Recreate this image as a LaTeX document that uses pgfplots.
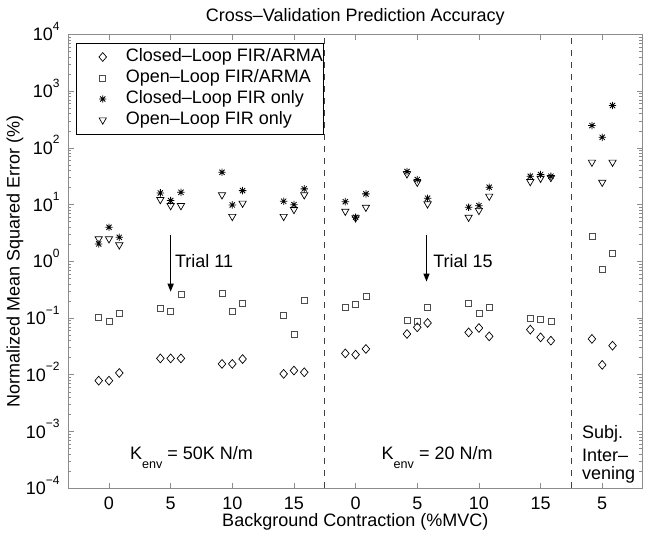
\documentclass[border=0pt]{standalone}
\usepackage{pgfplots}
\pgfplotsset{compat=1.18}
\usepackage{fontspec}
\setmainfont{Liberation Sans}
\usetikzlibrary{arrows.meta}
\pgfdeclareplotmark{mstar}{%
 \pgfpathmoveto{\pgfpoint{0pt}{\pgfplotmarksize}}\pgfpathlineto{\pgfpoint{0pt}{-\pgfplotmarksize}}%
 \pgfpathmoveto{\pgfpoint{\pgfplotmarksize}{0pt}}\pgfpathlineto{\pgfpoint{-\pgfplotmarksize}{0pt}}%
 \pgfpathmoveto{\pgfpoint{0.707\pgfplotmarksize}{0.707\pgfplotmarksize}}\pgfpathlineto{\pgfpoint{-0.707\pgfplotmarksize}{-0.707\pgfplotmarksize}}%
 \pgfpathmoveto{\pgfpoint{0.707\pgfplotmarksize}{-0.707\pgfplotmarksize}}\pgfpathlineto{\pgfpoint{-0.707\pgfplotmarksize}{0.707\pgfplotmarksize}}%
 \pgfusepathqstroke}
\newcommand{\ex}[1]{10\raisebox{10.5pt}{\fontsize{12}{12}\selectfont #1}}
\begin{document}
\fontsize{18}{21.6}\selectfont
\begin{tikzpicture}
\begin{axis}[
  scale only axis, width=574pt, height=453.8pt,
  xmin=0.34, xmax=9.65,
  ymode=log, ymin=1e-4, ymax=1e4,
  xtick={1,2,3,4,5,6,7,8,9},
  xticklabels={0,5,10,15,0,5,10,15,5},
  ytick={1e-4,1e-3,1e-2,1e-1,1,10,100,1000,10000},
  yticklabels={\ex{−4},\ex{−3},\ex{−2},\ex{−1},\ex{0},\ex{1},\ex{2},\ex{3},\ex{4}},
  minor ytick={2e-4,3e-4,4e-4,5e-4,6e-4,7e-4,8e-4,9e-4,2e-3,3e-3,4e-3,5e-3,6e-3,7e-3,8e-3,9e-3,2e-2,3e-2,4e-2,5e-2,6e-2,7e-2,8e-2,9e-2,0.2,0.3,0.4,0.5,0.6,0.7,0.8,0.9,2,3,4,5,6,7,8,9,20,30,40,50,60,70,80,90,200,300,400,500,600,700,800,900,2000,3000,4000,5000,6000,7000,8000,9000},
  tick align=inside,
  major tick length=5.5pt, minor tick length=3pt,
  axis line style={draw=black!45, line width=0.9pt},
  every tick/.style={draw=black!45, line width=0.7pt},
  xticklabel style={anchor=north, inner sep=0pt, yshift=-8.4pt},
  yticklabel style={anchor=base east, inner sep=0pt, xshift=-8.5pt, yshift=-6.45pt},
  title={Cross–Validation Prediction Accuracy},
  title style={at={(axis description cs:0.5,1)}, anchor=base, yshift=7.3pt, inner sep=0pt},
  xlabel={Background Contraction (\%MVC)},
  xlabel style={at={(axis description cs:0.5,0)}, anchor=base, yshift=-38.4pt, inner sep=0pt},
  ylabel={Normalized Mean Squared Error (\%)},
  ylabel style={at={(axis description cs:-0.0929,0.5)}, anchor=center, inner sep=0pt},
  legend cell align=left,
  legend image code/.code={\path[draw=none,fill=none] (-15pt,-6pt) rectangle (34pt,6pt); \draw[#1] plot coordinates {(11.7pt,0pt)};},
  legend style={at={(axis description cs:0.0135,0.9813)}, anchor=north west,
    draw=black, line width=0.7pt, fill=white, inner xsep=0pt, inner ysep=3.5pt, outer sep=0pt,
    column sep=0pt, row sep=0pt,
    nodes={draw=none, fill=none, outer sep=0pt, inner xsep=0.8pt, inner ysep=2pt, text height=13pt, text depth=4pt}},
]
% dashed separators
\addplot[black!75, line width=0.6pt, dash pattern=on 6pt off 6pt, forget plot] coordinates {(4.5,1e-4) (4.5,1e4)};
\addplot[black!75, line width=0.6pt, dash pattern=on 6pt off 6pt, forget plot] coordinates {(8.5,1e-4) (8.5,1e4)};

\addplot[only marks, mark=diamond, mark size=4.4pt, mark options={xscale=1.15, draw=black, line width=0.7pt, fill=none}] table {
x y
0.833 0.0079
1.000 0.0079
1.167 0.0108
1.833 0.0195
2.000 0.0195
2.167 0.0195
2.833 0.0156
3.000 0.0156
3.167 0.0190
3.833 0.0104
4.000 0.0119
4.167 0.0111
4.833 0.0239
5.000 0.0227
5.167 0.0286
5.833 0.0526
6.000 0.0689
6.167 0.0822
6.833 0.0560
7.000 0.0670
7.167 0.0477
7.833 0.0627
8.000 0.0458
8.167 0.0400
8.833 0.0430
9.000 0.0150
9.167 0.0327
};
\addlegendentry{Closed–Loop FIR/ARMA}

\addplot[only marks, mark=square, mark size=3pt, mark options={draw=black!70, line width=0.7pt, fill=none}] table {
x y
0.833 0.103
1.000 0.0867
1.167 0.119
1.833 0.151
2.000 0.130
2.167 0.259
2.833 0.278
3.000 0.132
3.167 0.182
3.833 0.114
4.000 0.0526
4.167 0.204
4.833 0.155
5.000 0.178
5.167 0.242
5.833 0.0904
6.000 0.0867
6.167 0.155
6.833 0.182
7.000 0.122
7.167 0.155
7.833 0.099
8.000 0.094
8.167 0.088
8.833 2.77
9.000 0.72
9.167 1.41
};
\addlegendentry{Open–Loop FIR/ARMA}

\addplot[only marks, mark=mstar, mark size=3.7pt, mark options={draw=black, line width=0.8pt}] table {
x y
0.833 2.03
1.000 4.0
1.167 2.66
1.833 16.1
2.000 11.8
2.167 16.5
2.833 37.3
3.000 9.9
3.167 17.7
3.833 11.5
4.000 10.0
4.167 19.0
4.833 11.3
5.000 6.0
5.167 15.5
5.833 38.4
6.000 27.7
6.167 13.0
6.833 9.0
7.000 9.6
7.167 20.3
7.833 31.7
8.000 34.0
8.167 31.7
8.833 248
9.000 154
9.167 560
};
\addlegendentry{Closed–Loop FIR only}

\addplot[only marks, mark=triangle, mark size=4.2pt, mark options={rotate=180, draw=black, line width=0.7pt, fill=none}] table {
x y
0.833 2.5
1.000 2.5
1.167 1.95
1.833 12.3
2.000 9.6
2.167 9.6
2.833 14.9
3.000 6.2
3.167 10.6
3.833 6.2
4.000 8.2
4.167 14.9
4.833 7.65
5.000 5.85
5.167 9.0
5.833 34.9
6.000 24.8
6.167 10.3
6.833 6.0
7.000 7.9
7.167 14.1
7.833 25.5
8.000 29.2
8.167 30.1
8.833 56
9.000 24.8
9.167 56
};
\addlegendentry{Open–Loop FIR only}

% annotations
\draw[line width=1.2pt, -{Triangle[length=8pt,width=6pt]}] (axis cs:2,2.92) -- (axis cs:2,0.292);
\draw[line width=1.2pt, -{Triangle[length=8pt,width=6pt]}] (axis cs:6.15,2.92) -- (axis cs:6.15,0.44);
\node[anchor=base west, inner sep=0pt] at (axis cs:2.07,0.766) {Trial 11};
\node[anchor=base west, inner sep=0pt] at (axis cs:6.256,0.766) {Trial 15};
\node[anchor=base west, inner sep=0pt] at (axis cs:1.34,3.16e-4) {K\raisebox{-9pt}{\fontsize{12.6}{12}\selectfont env} = 50K N/m};
\node[anchor=base west, inner sep=0pt] at (axis cs:5.42,3.16e-4) {K\raisebox{-9pt}{\fontsize{12.6}{12}\selectfont env} = 20 N/m};
\node[anchor=base west, inner sep=0pt] at (axis cs:8.67,7.62e-4) {Subj.};
\node[anchor=base west, inner sep=0pt] at (axis cs:8.67,2.95e-4) {Inter–};
\node[anchor=base west, inner sep=0pt] at (axis cs:8.67,1.44e-4) {vening};
\end{axis}
\pgfresetboundingbox
\path[use as bounding box] ([xshift=-68.3pt,yshift=-51.7pt]current axis.south west) rectangle ([xshift=8.7pt,yshift=34.5pt]current axis.north east);
\end{tikzpicture}
\end{document}
